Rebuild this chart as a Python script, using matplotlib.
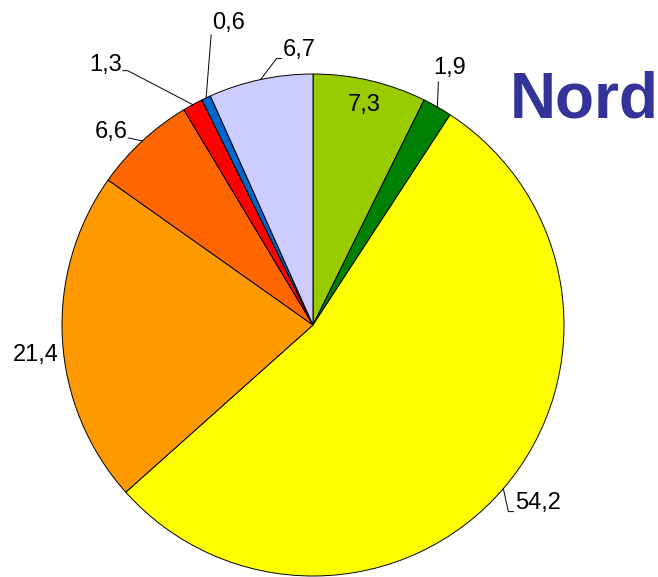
import numpy as np
import matplotlib.pyplot as plt

plt.rcParams['font.family'] = ['Liberation Sans', 'DejaVu Sans']

values = [7.3, 1.9, 54.2, 21.4, 6.6, 1.3, 0.6, 6.7]
labels = ["7,3", "1,9", "54,2", "21,4", "6,6", "1,3", "0,6", "6,7"]
colors = ["#99CC00", "#008000", "#FFFF00", "#FF9900",
          "#FF6600", "#FF0000", "#0066CC", "#CCCCFF"]
title = "Nord"

W, H = 658, 577
cx, cy, R = 313, H - 325, 251

# leader line vertices relative to the wedge edge point (pixels, y up)
leaders = [
    None,
    [(0, 0), (1, 25)],
    [(0, 0), (5, -23), (10, -23)],
    None,
    [(0, 0), (-14, 3)],
    [(0, 0), (-65, 34), (-70, 34)],
    [(0, 0), (5, 63)],
    [(0, 0), (16, 21), (21, 21)],
]
# text offset from the edge point and alignment
text_off = [
    None,
    (12, 28, 'center', 'bottom'),
    (12, -14, 'left', 'center'),
    (-4, -16, 'right', 'center'),
    (-15, 9, 'right', 'center'),
    (-71, 40, 'right', 'center'),
    (6, 64, 'left', 'bottom'),
    (22, 30, 'left', 'center'),
]

fig = plt.figure(figsize=(W / 100, H / 100), dpi=100)
ax = fig.add_axes([0, 0, 1, 1])
wedges, _ = ax.pie(values, colors=colors, startangle=90, counterclock=False,
                   center=(cx, cy), radius=R,
                   wedgeprops=dict(edgecolor='black', linewidth=0.7))
ax.set_xlim(0, W)
ax.set_ylim(0, H)
ax.set_aspect('equal')
ax.axis('off')

for i, w in enumerate(wedges):
    mid = np.deg2rad((w.theta1 + w.theta2) / 2)
    ex, ey = cx + R * np.cos(mid), cy + R * np.sin(mid)
    if text_off[i] is None:
        # label sits inside the wedge
        ax.text(cx + 0.9 * R * np.cos(mid), cy + 0.9 * R * np.sin(mid),
                labels[i], ha='center', va='center', fontsize=17)
        continue
    if leaders[i] is not None:
        pts = np.array(leaders[i], dtype=float)
        ax.plot(ex + pts[:, 0], ey + pts[:, 1], color='black', lw=0.7)
    dx, dy, ha, va = text_off[i]
    ax.text(ex + dx, ey + dy, labels[i], ha=ha, va=va, fontsize=17)

ax.text(510, H - 118, title, ha='left', va='baseline', fontsize=46,
        fontweight='bold', color='#333399')

fig.savefig('out.png', dpi=100)
